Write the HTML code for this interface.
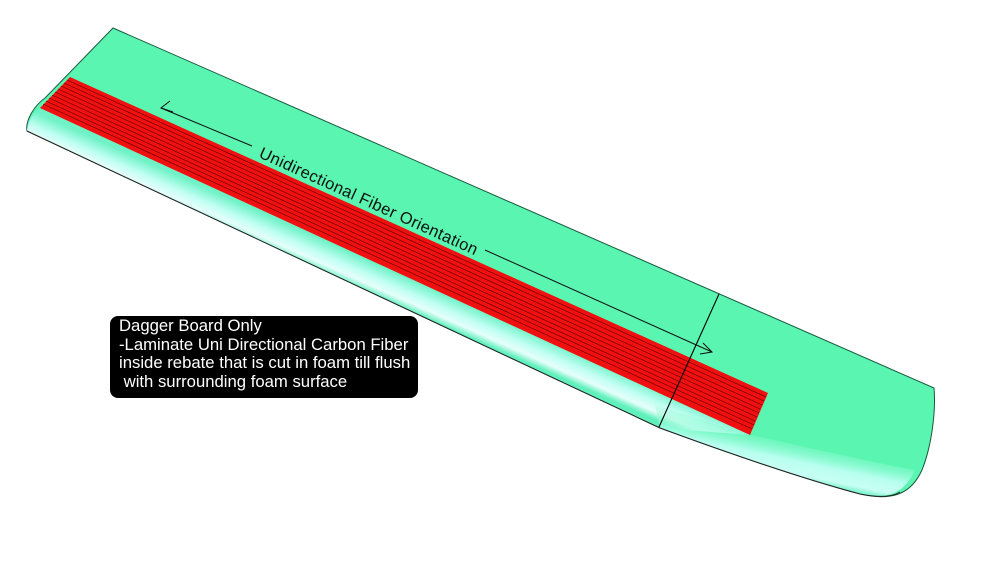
<!DOCTYPE html>
<html><head><meta charset="utf-8"><style>
html,body{margin:0;padding:0;background:#fff;width:1000px;height:568px;overflow:hidden}
.box{position:absolute;left:110px;top:316px;width:308px;height:82px;background:#000;border-radius:8px;color:#fff;font-family:"Liberation Sans",sans-serif;font-size:16.7px;line-height:18.5px;padding:1px 0 0 9px;box-sizing:border-box;white-space:pre}
</style></head><body>
<svg width="1000" height="568" style="position:absolute;left:0;top:0">
<defs>
<linearGradient id="lg" gradientUnits="userSpaceOnUse" x1="400" y1="274" x2="388" y2="301">
<stop offset="0" stop-color="#6ff2c6"/>
<stop offset="0.45" stop-color="#c0fff2"/>
<stop offset="0.75" stop-color="#e6fffb"/>
<stop offset="1" stop-color="#60f0bc"/>
</linearGradient>
<linearGradient id="lg2" gradientUnits="userSpaceOnUse" x1="790" y1="430" x2="780" y2="478">
<stop offset="0" stop-color="#5af5b0" stop-opacity="0"/>
<stop offset="0.6" stop-color="#b8fff0"/>
<stop offset="0.85" stop-color="#c8fff4"/>
<stop offset="1" stop-color="#60f0bc"/>
</linearGradient>
</defs>
<path d="M113,28 L934,388 C936,410 932,445 922,470 C912,492 895,502 860,494 C800,478 720,450 660,428 L27,131 C25,120 35,105 45,98 Z" fill="#5af5b0" stroke="#1a5a40" stroke-width="1"/>
<path d="M40,108 L750,435 L660,428 L27,131 C28,120 34,112 40,108 Z" fill="url(#lg)"/>
<path d="M655,405 L750,435 C800,445 860,460 915,470 C905,492 890,500 860,494 C800,478 720,450 660,428 Z" fill="url(#lg2)"/>
<path d="M27,131 L660,428 C720,450 800,478 860,494 C880,498 892,497 900,492" fill="none" stroke="#222" stroke-width="1"/>
<path d="M70,77 L768,393 L750,435 L40,108 Z" fill="#f01010"/>
<g stroke="#5a0000" stroke-width="0.6" fill="none">
<line x1="67" y1="80" x2="766" y2="397"/>
<line x1="64" y1="83" x2="764" y2="401"/>
<line x1="61" y1="86" x2="762" y2="405"/>
<line x1="58" y1="89" x2="760" y2="409"/>
<line x1="55" y1="92" x2="759" y2="413"/>
<line x1="52" y1="95" x2="757" y2="417"/>
<line x1="49" y1="98" x2="755" y2="421"/>
<line x1="46" y1="101" x2="754" y2="425"/>
<line x1="43" y1="104" x2="752" y2="429"/>
</g>
<line x1="719" y1="294" x2="659" y2="427" stroke="#000" stroke-width="1.1"/>
<g stroke="#111" stroke-width="1" fill="none">
<line x1="161" y1="108" x2="252" y2="146"/>
<line x1="485" y1="250" x2="712" y2="352"/>
<polyline points="170,101 161,108 173,112"/>
<polyline points="703,343 712,352 700,354"/>
</g>
<text x="0" y="0" transform="translate(258,157) rotate(24.4)" font-family="Liberation Sans,sans-serif" font-size="16.5" fill="#111" textLength="238">Unidirectional Fiber Orientation</text>
</svg>
<div class="box">Dagger Board Only
-Laminate Uni Directional Carbon Fiber
inside rebate that is cut in foam till flush
 with surrounding foam surface</div>
</body></html>
